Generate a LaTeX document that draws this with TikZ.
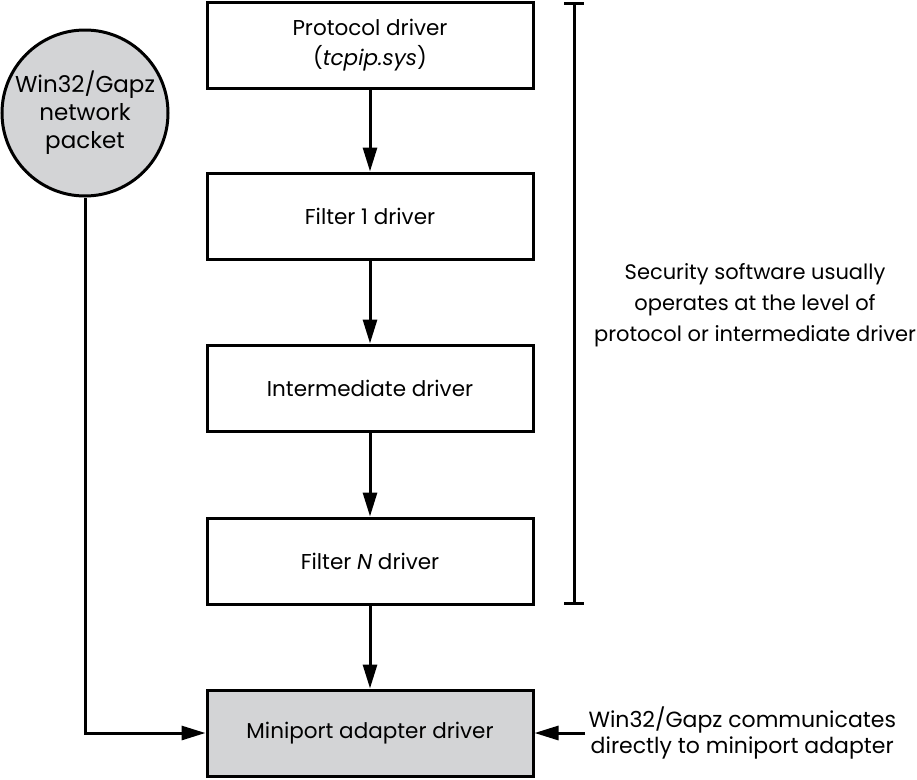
\documentclass[tikz,border=0pt]{standalone}
\usepackage{fontspec}
\setmainfont{Poppins}
\usepackage{tikz}
\usetikzlibrary{positioning,arrows.meta,shapes.geometric}

\definecolor{pktgray}{RGB}{211,212,214}

\tikzset{
  drv/.style={draw, line width=3pt, minimum width=326pt, minimum height=86pt, align=center, font=\fontsize{21.5}{30}\selectfont},
  note/.style={align=center, font=\fontsize{21}{31}\selectfont},
  arr/.style={line width=3pt, -{Triangle[length=24pt,width=14pt]}},
}

\begin{document}
\begin{tikzpicture}[x=1pt,y=-1pt]
\useasboundingbox (0,0) rectangle (917,779);
\node[drv] (proto) at (370,45) {Protocol driver\\(\textit{tcpip.sys})};
\node[drv] (filt1) at (370,216) {Filter 1 driver};
\node[drv] (inter) at (370,388) {Intermediate driver};
\node[drv] (filtN) at (370,561) {Filter \textit{N} driver};
\node[drv, fill=pktgray] (mini) at (370,733) {Miniport adapter driver};
\node[circle, draw, line width=3pt, fill=pktgray, minimum size=166pt, inner sep=0pt, align=center, font=\fontsize{23}{28}\selectfont] (pkt) at (85,113) {Win32/Gapz\\network\\packet};
\draw[arr] (proto) -- (filt1);
\draw[arr] (filt1) -- (inter);
\draw[arr] (inter) -- (filtN);
\draw[arr] (filtN) -- (mini);
\draw[arr] (pkt.south) |- (mini.west);
% bracket for security software
\coordinate (btop) at (574,3);
\coordinate (bbot) at (574,603);
\draw[line width=3pt] ([xshift=-10pt]btop) -- ([xshift=10pt]btop);
\draw[line width=3pt] (btop) -- (bbot);
\draw[line width=3pt] ([xshift=-10pt]bbot) -- ([xshift=10pt]bbot);
\node[note] (sec) at (755,305) {Security software usually\\operates at the level of\\protocol or intermediate driver};
\node[note, anchor=west, font=\fontsize{22}{26}\selectfont] (direct) at (585,733) {Win32/Gapz communicates\\directly to miniport adapter};
\draw[arr] (direct.west) -- (mini.east);
\end{tikzpicture}
\end{document}
